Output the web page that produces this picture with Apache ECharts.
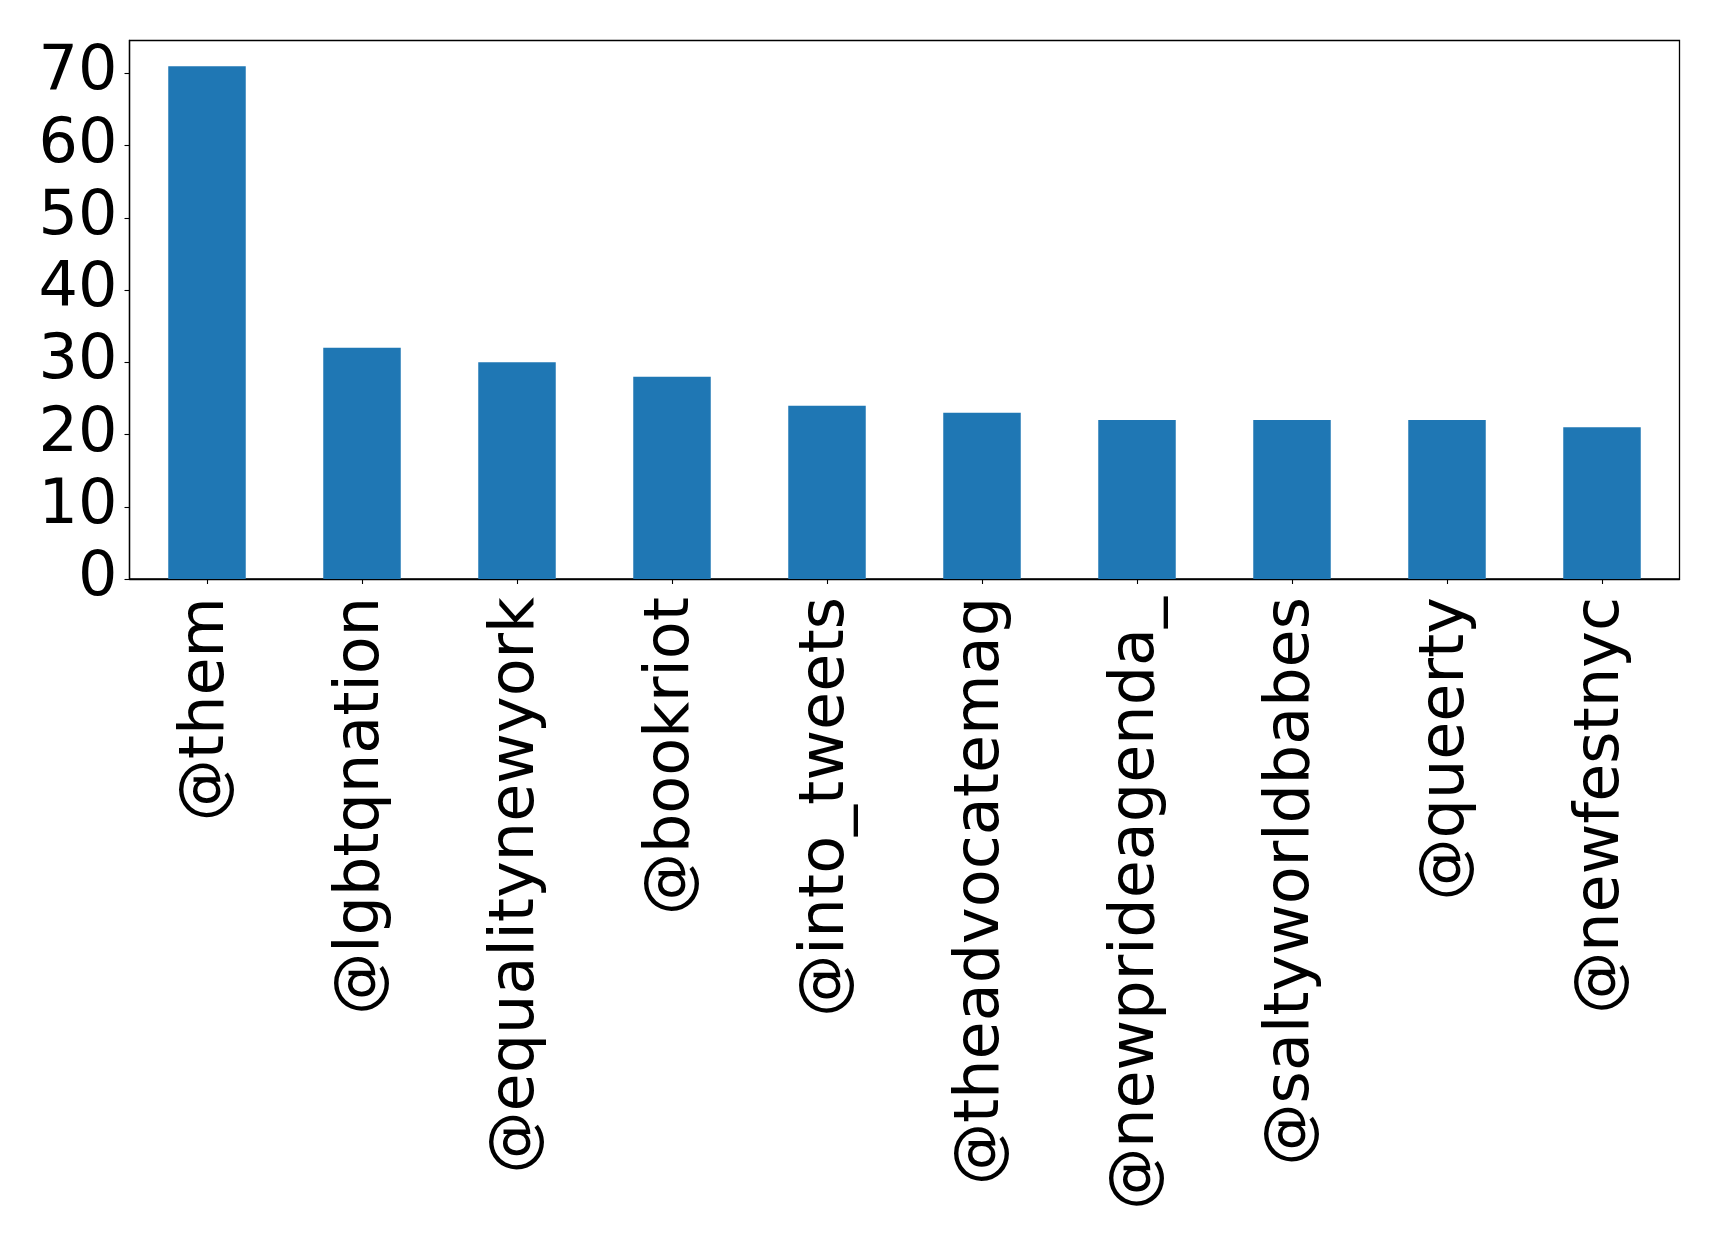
<!DOCTYPE html>
<html>
<head>
<meta charset="utf-8">
<script src="https://cdn.jsdelivr.net/npm/echarts@6/dist/echarts.min.js"></script>
<style>html,body{margin:0;padding:0;background:#fff}#c{width:1719px;height:1246px}</style>
</head>
<body>
<div id="c"></div>
<script>
const categories = ['@them','@lgbtqnation','@equalitynewyork','@bookriot','@into_tweets','@theadvocatemag','@newprideagenda_','@saltyworldbabes','@queerty','@newfestnyc'];
const counts = [71, 32, 30, 28, 24, 23, 22, 22, 22, 21];
const yTicks = [0, 10, 20, 30, 40, 50, 60, 70];

const chart = echarts.init(document.getElementById('c'), null, {renderer: 'canvas'});
const font = 'DejaVu Sans';
chart.setOption({
  animation: false,
  backgroundColor: '#fff',
  grid: {left: 129.5, top: 40.5, right: 39.5, bottom: 667, containLabel: false, outerBoundsMode: 'none',
    show: true, borderColor: '#000', borderWidth: 1.3, backgroundColor: 'transparent'},
  xAxis: {
    type: 'category',
    data: categories,
    boundaryGap: true,
    axisLine: {show: true, lineStyle: {color: '#000', width: 1.3}},
    axisTick: {show: true, alignWithLabel: true, length: 5, lineStyle: {color: '#000', width: 1.1}},
    axisLabel: {rotate: 90, fontSize: 62, fontFamily: font, color: '#000', margin: 18, interval: 0, hideOverlap: false}
  },
  yAxis: {
    type: 'value',
    min: 0,
    max: 74.55,
    interval: 10,
    splitLine: {show: false},
    axisLine: {show: true, lineStyle: {color: '#000', width: 1.3}},
    axisTick: {show: true, length: 5, lineStyle: {color: '#000', width: 1.1}},
    axisLabel: {fontSize: 62, fontFamily: font, color: '#000', margin: 12, showMaxLabel: false,
      formatter: v => yTicks.includes(v) ? String(v) : ''}
  },
  series: [{
    type: 'bar',
    data: counts,
    barWidth: '50%',
    itemStyle: {color: '#1f77b4'}
  }]
});
</script>
</body>
</html>
